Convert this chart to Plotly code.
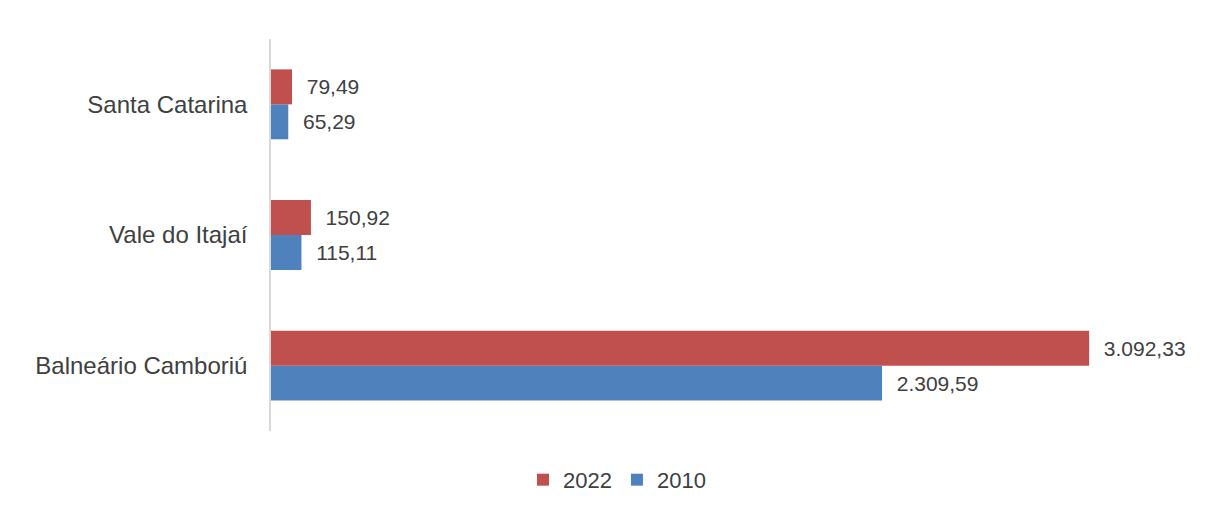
import plotly.graph_objects as go

categories = ["Balneário Camboriú", "Vale do Itajaí", "Santa Catarina"]
values_2022 = [3092.33, 150.92, 79.49]
values_2010 = [2309.59, 115.11, 65.29]
series_names = ["2022", "2010"]

FONT = "Liberation Sans, Arial, sans-serif"


def br(v):
    s = f"{v:,.2f}"
    return s.replace(",", "X").replace(".", ",").replace("X", ".")


fig = go.Figure()
fig.add_trace(go.Bar(
    y=categories, x=values_2010, name=series_names[1], orientation="h",
    marker=dict(color="#4F81BD", line=dict(width=0)),
    text=["  " + br(v) for v in values_2010], textposition="outside",
    textfont=dict(size=21, color="#404040", family=FONT),
    cliponaxis=False,
))
fig.add_trace(go.Bar(
    y=categories, x=values_2022, name=series_names[0], orientation="h",
    marker=dict(color="#C0504D", line=dict(width=0)),
    text=["  " + br(v) for v in values_2022], textposition="outside",
    textfont=dict(size=21, color="#404040", family=FONT),
    cliponaxis=False,
))

fig.update_layout(
    width=1218, height=502,
    barmode="group", bargap=0.465, bargroupgap=0,
    paper_bgcolor="white", plot_bgcolor="white",
    margin=dict(l=263, r=29, t=31, b=79, autoexpand=False),
    font=dict(family=FONT, size=21, color="#404040"),
    xaxis=dict(range=[0, 3500], visible=False, showgrid=False, zeroline=False,
               automargin=False),
    yaxis=dict(showline=True, linecolor="#D9D9D9", linewidth=1.5, showgrid=False,
               ticks="", ticklabelstandoff=17, automargin=False,
               tickfont=dict(size=24, color="#404040", family=FONT)),
    legend=dict(orientation="h", xref="container", yref="container", x=0.5, y=0.06,
                xanchor="center", yanchor="middle", traceorder="reversed",
                font=dict(size=22, color="#404040", family=FONT), itemwidth=30),
    uniformtext=dict(minsize=8),
)

fig.write_html("out.html")
